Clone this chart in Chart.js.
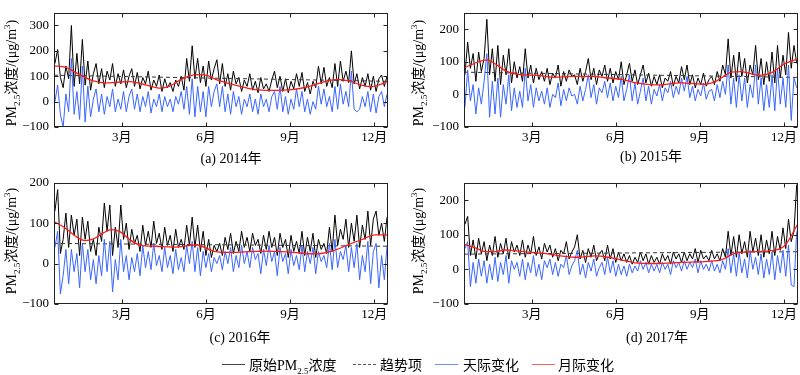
<!DOCTYPE html>
<html><head><meta charset="utf-8">
<script src="https://cdn.jsdelivr.net/npm/chart.js@4.4.1/dist/chart.umd.min.js"></script>
<style>
body{margin:0;width:800px;height:375px;background:#fff;position:relative;overflow:hidden;font-family:"Liberation Serif","Noto Sans CJK SC",serif;color:#000;}
canvas{position:absolute;}
.yt{position:absolute;white-space:nowrap;font-size:14px;transform:translate(-50%,-50%) rotate(-90deg);}
.cap{position:absolute;white-space:nowrap;font-size:14px;transform:translate(-50%,-50%);}
.lg{position:absolute;white-space:nowrap;font-size:14px;transform:translateY(-50%);}
.ln{position:absolute;height:0;width:23px;}
sub,sup{font-size:9px;line-height:0;}
</style>
</head><body>
<canvas id="ca" width="400" height="150" style="left:0;top:0"></canvas>
<canvas id="cb" width="390" height="150" style="left:410px;top:0"></canvas>
<canvas id="cc" width="400" height="157" style="left:0;top:170px"></canvas>
<canvas id="cd" width="390" height="157" style="left:410px;top:170px"></canvas>

<div class="yt" style="left:10px;top:73px">PM<sub>2.5</sub>浓度/(μg/m<sup>3</sup>)</div>
<div class="yt" style="left:417px;top:73px">PM<sub>2.5</sub>浓度/(μg/m<sup>3</sup>)</div>
<div class="yt" style="left:10px;top:241px">PM<sub>2.5</sub>浓度/(μg/m<sup>3</sup>)</div>
<div class="yt" style="left:417px;top:241px">PM<sub>2.5</sub>浓度/(μg/m<sup>3</sup>)</div>

<div class="cap" style="left:231px;top:157px">(a) 2014年</div>
<div class="cap" style="left:651px;top:155px">(b) 2015年</div>
<div class="cap" style="left:240px;top:336px">(c) 2016年</div>
<div class="cap" style="left:657px;top:336px">(d) 2017年</div>

<div class="ln" style="left:222px;top:364px;border-top:1px solid #444"></div>
<div class="lg" style="left:249px;top:364px">原始PM<sub>2.5</sub>浓度</div>
<div class="ln" style="left:353px;top:364px;border-top:1px dashed #555"></div>
<div class="lg" style="left:380px;top:364px">趋势项</div>
<div class="ln" style="left:435px;top:364px;border-top:1px solid #7090ff"></div>
<div class="lg" style="left:463px;top:364px">天际变化</div>
<div class="ln" style="left:532px;top:364px;border-top:1px solid #ff6060"></div>
<div class="lg" style="left:558px;top:364px">月际变化</div>

<script>
// ---- categories / ticks ----
const xTickDays = [74, 166, 258, 350];
const xTickLabels = ['3月', '6月', '9月', '12月'];
const days = Array.from({length: 122}, (_, i) => 1 + 3 * i);

// ---- 2014 ----
const blackA = [
150, 205, 95, 55, 140, 90, 300, 60, 190, 70,
245, 65, 160, 45, 110, 150, 70, 130, 55, 120,
85, 150, 60, 110, 70, 125, 55, 100, 130, 60,
115, 50, 95, 70, 120, 45, 85, 60, 105, 40,
90, 55, 75, 40, 85, 60, 100, 45, 170, 80,
220, 90, 170, 75, 140, 60, 160, 85, 130, 165,
70, 150, 60, 110, 45, 120, 70, 95, 40, 85,
60, 110, 45, 80, 35, 95, 50, 70, 40, 85,
120, 55, 100, 40, 90, 35, 80, 50, 110, 60,
115, 40, 75, 30, 80, 55, 140, 70, 135, 60,
95, 55, 150, 60, 160, 80, 120, 75, 200, 70,
110, 50, 95, 60, 110, 45, 100, 40, 90, 105,
60, 100];
const blueA = [
0, 65, -50, -100, 30, -40, 170, -50, 40, -70,
140, -80, 60, -60, 10, 50, -40, 30, -50, 20,
-20, 50, -40, 10, -30, 40, -40, 20, 50, -30,
30, -40, 20, -20, 40, -45, 10, -20, 30, -40,
20, -20, 10, -40, 20, -10, 40, -30, 60, -50,
90, -60, 60, -40, 40, -60, 60, -20, 40, 70,
-20, 60, -40, 30, -50, 40, -20, 20, -50, 10,
-20, 30, -40, 10, -50, 30, -20, 10, -40, 20,
40, -30, 60, -40, 20, -50, 10, -30, 50, -20,
40, -40, 10, -50, 0, -30, 60, -10, 50, -20,
20, -40, 60, -30, 70, -10, 40, -20, 120, -30,
-40, -30, 20, -20, 40, -40, 30, -45, 20, 40,
-20, 30];
const monthDaysA = [0, 13, 28, 43, 57, 68, 83, 101, 116, 127, 139, 156, 167, 178, 198, 220, 238, 260, 278, 296, 310, 322, 336, 347, 365];
const monthA = [141, 135, 106, 82, 74, 76, 79, 65, 53, 62, 88, 106, 103, 86, 65, 47, 44, 47, 59, 79, 88, 82, 65, 59, 79];
const trendDays = [0, 365];
const trendA = [104, 80];

// ---- 2015 ----
const blackB = [
60, 160, 80, 125, 40, 130, 70, 110, 230, 60,
140, 40, 150, 30, 120, 60, 140, 35, 100, 50,
85, 40, 140, 50, 90, 35, 80, 45, 70, 40,
80, 30, 65, 50, 90, 25, 70, 40, 75, 55,
60, 30, 80, 40, 70, 110, 45, 80, 30, 75,
55, 90, 40, 80, 35, 70, 45, 100, 30, 60,
95, 40, 75, 30, 60, 90, 35, 65, 25, 55,
30, 60, 20, 50, 40, 70, 25, 55, 35, 85,
45, 90, 30, 60, 20, 50, 30, 65, 25, 45,
55, 30, 70, 40, 90, 60, 170, 50, 120, 40,
130, 55, 110, 35, 90, 60, 150, 45, 110, 30,
100, 40, 130, 35, 150, 50, 120, 60, 190, 80,
150, 95];
const blueB = [
-40, 75, -20, 30, -60, 20, -30, 40, 125, -70,
40, -60, 50, -70, 30, -30, 60, -50, 20, -40,
10, -40, 80, -20, 30, -40, 20, -20, 10, -30,
20, -40, 0, -10, 35, -35, 15, -20, 20, -5,
0, -30, 25, -20, 15, 60, -10, 30, -30, 20,
5, 40, -10, 35, -20, 25, -10, 55, -20, 15,
60, -20, 35, -30, 10, 50, -20, 25, -30, 15,
-5, 30, -20, 20, 5, 40, -10, 25, 0, 50,
10, 55, -10, 25, -20, 15, -5, 35, -15, 10,
15, -20, 30, -10, 40, 0, 90, -30, 50, -40,
60, -20, 50, -40, 30, -10, 90, -30, 50, -50,
30, -40, 60, -50, 80, -30, 50, -40, 90, -80,
50, 20];
const monthDaysB = [0, 16, 25, 34, 45, 59, 81, 99, 118, 140, 154, 174, 187, 212, 238, 264, 274, 293, 303, 322, 336, 351, 365];
const monthB = [81, 100, 106, 94, 73, 61, 58, 52, 55, 55, 51, 45, 36, 29, 35, 31, 38, 68, 70, 58, 66, 94, 109];
const trendB = [68, 52];

// ---- 2016 ----
const blackC = [
130, 183, 25, 60, 125, 40, 120, 70, 110, 20,
115, 60, 105, 30, 60, 20, 90, 55, 150, 80,
145, 20, 90, 40, 145, 60, 100, 35, 85, 50,
70, 30, 95, 45, 80, 40, 105, 50, 75, 35,
90, 45, 70, 30, 85, 40, 60, 35, 95, 45,
115, 40, 95, 30, 80, 20, 60, 15, 45, 30,
50, 20, 65, 35, 75, 25, 55, 30, 80, 40,
65, 30, 75, 45, 60, 25, 70, 35, 80, 40,
65, 20, 75, 40, 60, 15, 70, 30, 55, 25,
80, 20, 65, 30, 75, 15, 60, 35, 50, 25,
90, 30, 120, 45, 85, 60, 110, 40, 100, 55,
120, 40, 95, 60, 130, 45, 110, 130, 70, 100,
55, 115];
const blueC = [
40, 80, -75, -30, 35, -50, 35, -20, 25, -60,
50, -20, 35, -40, 10, -50, 20, -30, 60, -20,
55, -70, 10, -40, 60, -20, 20, -40, 15, -20,
25, -30, 45, -10, 30, -15, 50, -5, 20, -20,
40, -10, 20, -25, 35, -15, 15, -20, 45, 0,
55, -20, 40, -30, 30, -10, 25, -20, 15, 0,
20, -15, 30, 0, 40, -20, 20, -10, 45, 0,
30, -10, 40, 10, 25, -25, 35, -5, 45, 5,
30, -30, 40, 5, 25, -25, 35, -5, 20, -15,
45, -20, 30, 0, 40, -25, 30, 5, 20, -10,
50, -15, 60, -10, 30, 10, 45, -20, 40, -10,
50, -40, 20, -20, 55, -50, 30, 50, -60, 20,
-40, 45];
const monthDaysC = [0, 13, 24, 34, 43, 54, 63, 72, 83, 94, 112, 130, 156, 174, 187, 198, 230, 260, 285, 304, 322, 336, 351, 365];
const monthC = [104, 87, 67, 57, 61, 76, 84, 79, 59, 46, 43, 41, 46, 31, 28, 28, 31, 28, 24, 31, 47, 59, 71, 71];
const trendC = [50, 43];

// ---- 2017 ----
const blackD = [
130, 153, 40, 85, 30, 90, 45, 80, 25, 70,
40, 95, 35, 75, 45, 90, 30, 80, 50, 70,
40, 85, 35, 70, 45, 95, 40, 65, 30, 75,
50, 70, 35, 60, 25, 55, 45, 80, 30, 50,
65, 100, 30, 55, 20, 60, 35, 70, 25, 45,
55, 25, 70, 30, 60, 20, 50, 25, 45, 20,
40, 15, 35, 20, 50, 25, 45, 15, 40, 20,
35, 15, 45, 25, 40, 15, 50, 30, 45, 20,
50, 25, 45, 30, 60, 20, 55, 30, 40, 25,
55, 30, 45, 25, 60, 35, 110, 40, 95, 35,
100, 45, 80, 35, 110, 50, 90, 40, 100, 35,
85, 45, 110, 40, 95, 55, 120, 60, 145, 80,
110, 245];
const blueD = [
60, 80, -50, 20, -40, 30, -20, 25, -40, 15,
-30, 35, -35, 20, -15, 40, -40, 25, 0, 20,
-20, 30, -30, 20, -10, 40, -20, 15, -30, 25,
5, 30, -15, 20, -20, 15, 5, 40, -15, 10,
25, 55, -15, 15, -25, 20, -5, 30, -20, 5,
20, -15, 35, -10, 25, -20, 15, -15, 10, -20,
15, -10, 10, -5, 25, 0, 20, -10, 15, -5,
15, -10, 20, 0, 15, -15, 25, 5, 20, -5,
25, 0, 20, 5, 30, -10, 25, 0, 15, -5,
25, -5, 15, -10, 25, 0, 60, -10, 45, -20,
50, -10, 30, -25, 55, 0, 35, -15, 45, -25,
30, -15, 50, -30, 40, -10, 55, -20, 70, -45,
-50, 110];
const monthDaysD = [0, 12, 23, 34, 45, 55, 70, 88, 106, 125, 143, 158, 174, 187, 209, 238, 267, 282, 296, 318, 336, 351, 365];
const monthD = [72, 63, 51, 51, 56, 54, 50, 46, 39, 35, 39, 35, 26, 19, 17, 20, 23, 28, 46, 51, 54, 69, 130];
const trendD = [44, 51];

const FONT = "'Liberation Serif', 'Noto Sans CJK SC', serif";

const framePlugin = {
  id: 'frame',
  afterDatasetsDraw(chart) {
    const {ctx, chartArea: a, scales: {x, y}} = chart;
    ctx.save();
    ctx.strokeStyle = '#222';
    ctx.lineWidth = 1;
    const l = Math.round(a.left) + 0.5, r = Math.round(a.right) - 0.5;
    const t = Math.round(a.top) + 0.5, b = Math.round(a.bottom) - 0.5;
    ctx.strokeRect(l, t, r - l, b - t);
    const L = 4;
    ctx.beginPath();
    x.ticks.forEach(tk => {
      const px = Math.round(x.getPixelForValue(tk.value)) + 0.5;
      ctx.moveTo(px, b); ctx.lineTo(px, b - L);
      ctx.moveTo(px, t); ctx.lineTo(px, t + L);
    });
    y.ticks.forEach(tk => {
      const py = Math.round(y.getPixelForValue(tk.value)) + 0.5;
      ctx.moveTo(l, py); ctx.lineTo(l + L, py);
      ctx.moveTo(r, py); ctx.lineTo(r - L, py);
    });
    ctx.stroke();
    ctx.restore();
  }
};

function pts(xs, ys) { return xs.map((d, i) => ({x: d, y: ys[i]})); }

function makeChart(id, black, blue, mDays, month, trend, ymin, ymax, yTicks, pad) {
  new Chart(document.getElementById(id), {
    type: 'line',
    data: {
      datasets: [
        {data: pts(mDays, month), borderColor: '#ff1a1a', borderWidth: 1.3, pointRadius: 0, cubicInterpolationMode: 'monotone', order: 0},
        {data: pts(days, blue), borderColor: '#3a66ff', borderWidth: 1, pointRadius: 0, tension: 0, order: 1},
        {data: pts(trendDays, trend), borderColor: '#333', borderWidth: 1, borderDash: [4, 3], pointRadius: 0, order: 2},
        {data: pts(days, black), borderColor: '#000', borderWidth: 1, pointRadius: 0, tension: 0, order: 3}
      ]
    },
    options: {
      responsive: false, animation: false, devicePixelRatio: 1,
      layout: {padding: pad},
      plugins: {legend: {display: false}, tooltip: {enabled: false}},
      scales: {
        x: {
          type: 'linear', min: 0, max: 365,
          grid: {display: false, drawTicks: false}, border: {display: false},
          afterBuildTicks: s => { s.ticks = xTickDays.map(v => ({value: v})); },
          afterFit: s => { s.height = 23; },
          ticks: {autoSkip: false, maxRotation: 0, padding: 3, color: '#000', font: {family: FONT, size: 13},
            callback: (v, i) => xTickLabels[i]}
        },
        y: {
          min: ymin, max: ymax,
          grid: {display: false, drawTicks: false}, border: {display: false},
          afterBuildTicks: s => { s.ticks = yTicks.map(v => ({value: v})); },
          afterFit: s => { s.width = 54; },
          ticks: {autoSkip: false, padding: 5, color: '#000', font: {family: FONT, size: 13},
            callback: v => v < 0 ? '\u2212' + Math.abs(v) : String(v)}
        }
      }
    },
    plugins: [framePlugin]
  });
}

makeChart('ca', blackA, blueA, monthDaysA, monthA, trendA, -100, 350, [-100, 0, 100, 200, 300], {top: 1, right: 12, left: 0, bottom: 0});
makeChart('cb', blackB, blueB, monthDaysB, monthB, trendB, -100, 250, [-100, 0, 100, 200], {top: 1, right: 2, left: 0, bottom: 0});
makeChart('cc', blackC, blueC, monthDaysC, monthC, trendC, -100, 200, [-100, 0, 100, 200], {top: 7, right: 12, left: 0, bottom: 0});
makeChart('cd', blackD, blueD, monthDaysD, monthD, trendD, -100, 250, [-100, 0, 100, 200], {top: 8, right: 2, left: 0, bottom: 0});
</script>
</body></html>
